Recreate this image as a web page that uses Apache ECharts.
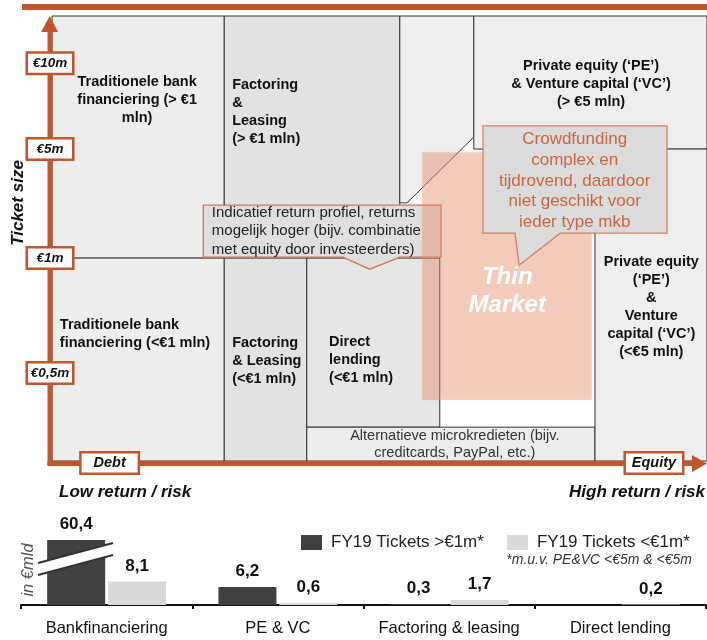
<!DOCTYPE html>
<html><head><meta charset="utf-8">
<script src="https://cdn.jsdelivr.net/npm/echarts@6/dist/echarts.min.js"></script>
<style>html,body{margin:0;padding:0;background:#fff}#c{width:707px;height:640px}</style>
</head><body><div id="c"></div>
<script>
// ---------- Data: financing landscape (units: x 0–100 Debt→Equity, y 0–100 ticket size) ----------
const ticketTickLabels = ['€10m', '€5m', '€1m', '€0,5m'];
const ticketTickValues = [89.4, 70.1, 45.6, 19.8];
const typeTickLabels = ['Debt', 'Equity'];
const typeTickValues = [8.8, 91.9];

const segmentNames = ['bankLarge', 'factLarge', 'midTop', 'peLarge', 'bankSmall', 'factSmall', 'direct', 'micro', 'peSmall'];
const segmentPolygons = [
  [[0, 45.6], [26.3, 45.6], [26.3, 100], [0, 100]],
  [[26.3, 45.6], [53.1, 45.6], [53.1, 100], [26.3, 100]],
  [[53.1, 58.0], [54.2, 58.0], [64.4, 72.8], [64.4, 100], [53.1, 100]],
  [[64.4, 70.1], [100, 70.1], [100, 100], [64.4, 100]],
  [[0, 0], [26.3, 0], [26.3, 45.6], [0, 45.6]],
  [[26.3, 0], [38.9, 0], [38.9, 45.6], [26.3, 45.6]],
  [[38.9, 7.6], [59.2, 7.6], [59.2, 45.6], [38.9, 45.6]],
  [[38.9, 0], [82.9, 0], [82.9, 7.6], [38.9, 7.6]],
  [[82.9, 0], [100, 0], [100, 70.1], [82.9, 70.1]]
];
const segmentLabels = [
  'Traditionele bank\nfinanciering (> €1\nmln)',
  'Factoring\n&\nLeasing\n(> €1 mln)',
  '',
  'Private equity (‘PE’)\n& Venture capital (‘VC’)\n(> €5 mln)',
  'Traditionele bank\nfinanciering (<€1 mln)',
  'Factoring\n& Leasing\n(<€1 mln)',
  'Direct\nlending\n(<€1 mln)',
  'Alternatieve microkredieten (bijv.\ncreditcards, PayPal, etc.)',
  'Private equity\n(‘PE’)\n&\nVenture\ncapital (‘VC’)\n(<€5 mln)'
];
const segmentLabelAnchors = [[13.0, 81.1], [27.5, 78.4], [0, 0], [82.3, 84.7], [1.2, 28.5], [27.5, 22.5], [42.3, 22.7], [61.5, 3.7], [91.5, 34.7]];

const thinMarketArea = [[56.5, 13.7], [82.4, 13.7], [82.4, 69.4], [56.5, 69.4]];
const thinMarketLabel = 'Thin\nMarket';
const thinMarketAnchor = [69.5, 38.2];

const calloutTexts = [
  'Indicatief return profiel, returns\nmogelijk hoger (bijv. combinatie\nmet equity door investeerders)',
  'Crowdfunding\ncomplex en\ntijdrovend, daardoor\nniet geschikt voor\nieder type mkb'
];
const calloutPolygons = [
  [[23.1, 57.5], [59.4, 57.5], [59.4, 45.8], [53.1, 45.8], [48.5, 43.1], [44.4, 45.8], [23.1, 45.8]],
  [[65.8, 75.3], [93.9, 75.3], [93.9, 51.2], [77.6, 51.2], [71.3, 44.0], [70.7, 51.2], [65.8, 51.2]]
];
const calloutAnchors = [[24.4, 51.7], [79.8, 62.9]];

// ---------- Data: volumes bar chart (in €mld) ----------
const barCategories = ['Bankfinanciering', 'PE & VC', 'Factoring & leasing', 'Direct lending'];
const seriesNames = ['FY19 Tickets >€1m*', 'FY19 Tickets <€1m*'];
const ticketsAbove1m = [60.4, 6.2, 0.3, null];
const ticketsBelow1m = [8.1, 0.6, 1.7, 0.2];

// ---------- Styles ----------
const ORANGE = '#C0572C';
const FONT = 'Arial, "Liberation Sans", Helvetica, sans-serif';
const segmentFill = {
  bankLarge: '#EDEDED', factLarge: '#E2E2E2', midTop: '#EFEFEF', peLarge: '#EEEEEE',
  bankSmall: '#EDEDED', factSmall: '#E2E2E2', direct: '#E6E6E6', micro: '#ECECEC', peSmall: '#EEEEEE'
};
const segmentLabelAlign = { bankLarge: 'center', factLarge: 'left', peLarge: 'center', bankSmall: 'left', factSmall: 'left', direct: 'left', micro: 'center', peSmall: 'center' };

const chart = echarts.init(document.getElementById('c'), null, { renderer: 'canvas' });

const idx = arr => arr.map((_, i) => [i]);

const option = {
  backgroundColor: '#fff',
  animation: false,
  textStyle: { fontFamily: FONT },
  grid: [
    { left: 52, right: 0, top: 16, bottom: 179 },
    { left: 21, right: 1, top: 540, bottom: 35 }
  ],
  xAxis: [
    {
      type: 'value', gridIndex: 0, min: 0, max: 100, position: 'bottom', offset: 2, z: 10,
      axisLine: { show: false }, axisTick: { show: false }, splitLine: { show: false },
      axisLabel: {
        customValues: typeTickValues,
        formatter: v => typeTickLabels[typeTickValues.indexOf(v)],
        margin: 0, verticalAlign: 'middle', align: 'center',
        fontFamily: FONT, fontSize: 14.5, fontWeight: 'bold', fontStyle: 'italic', color: '#111',
        backgroundColor: '#fff', borderColor: ORANGE, borderWidth: 2.5,
        width: 50, padding: [2, 3, 1, 3], lineHeight: 16
      }
    },
    {
      type: 'category', gridIndex: 1, data: barCategories,
      axisLine: { lineStyle: { color: '#111', width: 2 } },
      axisTick: { show: true, length: 4, lineStyle: { color: '#111', width: 2 } },
      axisLabel: { interval: 0, fontFamily: FONT, fontSize: 16.5, color: '#111', margin: 15 }
    }
  ],
  yAxis: [
    {
      type: 'value', gridIndex: 0, min: 0, max: 100, position: 'left', offset: 2, z: 10,
      axisLine: { show: false }, axisTick: { show: false }, splitLine: { show: false },
      axisLabel: {
        customValues: ticketTickValues,
        formatter: v => ticketTickLabels[ticketTickValues.indexOf(v)],
        margin: 0, verticalAlign: 'middle', align: 'center',
        fontFamily: FONT, fontSize: 13.5, fontWeight: 'bold', fontStyle: 'italic', color: '#111',
        backgroundColor: '#fff', borderColor: ORANGE, borderWidth: 2.5,
        width: 38, padding: [2, 3, 1, 3], lineHeight: 16
      }
    },
    { type: 'value', gridIndex: 1, min: 0, max: 22.5, show: false }
  ],
  legend: {
    data: seriesNames, left: 296, top: 529, itemWidth: 21, itemHeight: 15, itemGap: 23,
    icon: 'rect', selectedMode: false,
    textStyle: { fontFamily: FONT, fontSize: 17, color: '#222', padding: [0, 0, 0, 4] }
  },
  series: [
    {
      type: 'custom', name: 'segments', xAxisIndex: 0, yAxisIndex: 0, z: 2, silent: true,
      data: idx(segmentPolygons),
      renderItem: (params, api) => {
        const i = params.dataIndex;
        return {
          type: 'polygon',
          shape: { points: segmentPolygons[i].map(p => api.coord(p)) },
          style: { fill: segmentFill[segmentNames[i]], stroke: '#333', lineWidth: 1 }
        };
      }
    },
    {
      type: 'custom', name: 'callout1', xAxisIndex: 0, yAxisIndex: 0, z: 3, silent: true,
      data: [[0]],
      renderItem: (params, api) => ({
        type: 'group', children: [
          { type: 'polygon', shape: { points: calloutPolygons[0].map(p => api.coord(p)) },
            style: { fill: '#DFDFDF', stroke: '#C7785A', lineWidth: 1.3 } },
          (function () { const p = api.coord(calloutAnchors[0]); return {
            type: 'text', x: p[0], y: p[1],
            style: { text: calloutTexts[0], fill: '#222', fontFamily: FONT, fontSize: 15, lineHeight: 18.5, align: 'left', verticalAlign: 'middle' } }; })()
        ]
      })
    },
    {
      type: 'custom', name: 'thinMarket', xAxisIndex: 0, yAxisIndex: 0, z: 4, silent: true,
      data: [[0]],
      renderItem: (params, api) => {
        const a = api.coord(thinMarketArea[3]);
        const b = api.coord(thinMarketArea[1]);
        const t = api.coord(thinMarketAnchor);
        return {
          type: 'group', children: [
            { type: 'rect', shape: { x: a[0], y: a[1], width: b[0] - a[0], height: b[1] - a[1] },
              style: { fill: 'rgba(226,140,104,0.38)', shadowBlur: 6, shadowColor: 'rgba(226,140,104,0.3)' } },
            { type: 'text', x: t[0], y: t[1],
              style: { text: thinMarketLabel, fill: '#fff', fontFamily: FONT, fontSize: 24, fontWeight: 'bold', fontStyle: 'italic', lineHeight: 28, align: 'center', verticalAlign: 'middle' } }
          ]
        };
      }
    },
    {
      type: 'custom', name: 'callout2', xAxisIndex: 0, yAxisIndex: 0, z: 5, silent: true,
      data: [[0]],
      renderItem: (params, api) => {
        const p = api.coord(calloutAnchors[1]);
        return {
          type: 'group', children: [
            { type: 'polygon', shape: { points: calloutPolygons[1].map(q => api.coord(q)) },
              style: { fill: '#DBDBDB', stroke: '#D08466', lineWidth: 1.3 } },
            { type: 'text', x: p[0], y: p[1],
              style: { text: calloutTexts[1], fill: '#C8663E', fontFamily: FONT, fontSize: 17, lineHeight: 20.7, align: 'center', verticalAlign: 'middle' } }
          ]
        };
      }
    },
    {
      type: 'custom', name: 'segmentLabels', xAxisIndex: 0, yAxisIndex: 0, z: 6, silent: true,
      data: idx(segmentLabels),
      renderItem: (params, api) => {
        const i = params.dataIndex;
        const name = segmentNames[i];
        if (!segmentLabels[i]) return null;
        const p = api.coord(segmentLabelAnchors[i]);
        const isMicro = name === 'micro';
        return {
          type: 'text', x: p[0], y: p[1],
          style: {
            text: segmentLabels[i], fill: isMicro ? '#333' : '#111', fontFamily: FONT,
            fontSize: 14.5, fontWeight: isMicro ? 'normal' : 'bold', lineHeight: isMicro ? 17 : 18,
            align: segmentLabelAlign[name], verticalAlign: 'middle'
          }
        };
      }
    },
    {
      type: 'bar', name: seriesNames[0], xAxisIndex: 1, yAxisIndex: 1, data: ticketsAbove1m,
      barWidth: 58, barGap: '5%', clip: true, itemStyle: { color: '#404040' },
      label: { show: true, position: 'top', distance: 7, fontFamily: FONT, fontSize: 17, fontWeight: 'bold', color: '#111',
        formatter: p => String(p.value).replace('.', ',') }
    },
    {
      type: 'bar', name: seriesNames[1], xAxisIndex: 1, yAxisIndex: 1, data: ticketsBelow1m,
      barWidth: 58, barGap: '5%', clip: true, itemStyle: { color: '#D9D9D9' },
      label: { show: true, position: 'top', distance: 7, fontFamily: FONT, fontSize: 17, fontWeight: 'bold', color: '#111',
        formatter: p => String(p.value).replace('.', ',') }
    }
  ],
  graphic: [
    { type: 'rect', z: 8, shape: { x: 22, y: 4, width: 685, height: 6 }, style: { fill: ORANGE } },
    { type: 'rect', z: 8, shape: { x: 47.5, y: 28, width: 5, height: 438 }, style: { fill: ORANGE } },
    { type: 'polygon', z: 8, shape: { points: [[41, 32], [58, 32], [49.8, 16]] }, style: { fill: ORANGE } },
    { type: 'rect', z: 8, shape: { x: 47.5, y: 461, width: 646, height: 5 }, style: { fill: ORANGE } },
    { type: 'polygon', z: 8, shape: { points: [[692, 455], [692, 472], [707, 463.5]] }, style: { fill: ORANGE } },
    { type: 'text', z: 8, x: 18, y: 203, rotation: Math.PI / 2,
      style: { text: 'Ticket size', fill: '#111', fontFamily: FONT, fontSize: 17, fontWeight: 'bold', fontStyle: 'italic', align: 'center', verticalAlign: 'middle' } },
    { type: 'text', z: 8, x: 59, y: 492,
      style: { text: 'Low return / risk', fill: '#111', fontFamily: FONT, fontSize: 17, fontWeight: 'bold', fontStyle: 'italic', align: 'left', verticalAlign: 'middle' } },
    { type: 'text', z: 8, x: 569, y: 492,
      style: { text: 'High return / risk', fill: '#111', fontFamily: FONT, fontSize: 17, fontWeight: 'bold', fontStyle: 'italic', align: 'left', verticalAlign: 'middle' } },
    { type: 'text', z: 8, x: 28, y: 570, rotation: Math.PI / 2,
      style: { text: 'in €mld', fill: '#555', fontFamily: FONT, fontSize: 16.5, fontStyle: 'italic', align: 'center', verticalAlign: 'middle' } },
    { type: 'text', z: 8, x: 692, y: 560,
      style: { text: '*m.u.v. PE&VC <€5m & <€5m', fill: '#333', fontFamily: FONT, fontSize: 14, fontStyle: 'italic', align: 'right', verticalAlign: 'middle' } },
    { type: 'polygon', z: 9, shape: { points: [[38, 563], [113, 543], [113, 555], [38, 575]] }, style: { fill: '#fff' } },
    { type: 'line', z: 9, shape: { x1: 38, y1: 563, x2: 113, y2: 543 }, style: { stroke: '#333', lineWidth: 2 } },
    { type: 'line', z: 9, shape: { x1: 38, y1: 575, x2: 113, y2: 555 }, style: { stroke: '#333', lineWidth: 2 } }
  ]
};
chart.setOption(option);
</script></body></html>
